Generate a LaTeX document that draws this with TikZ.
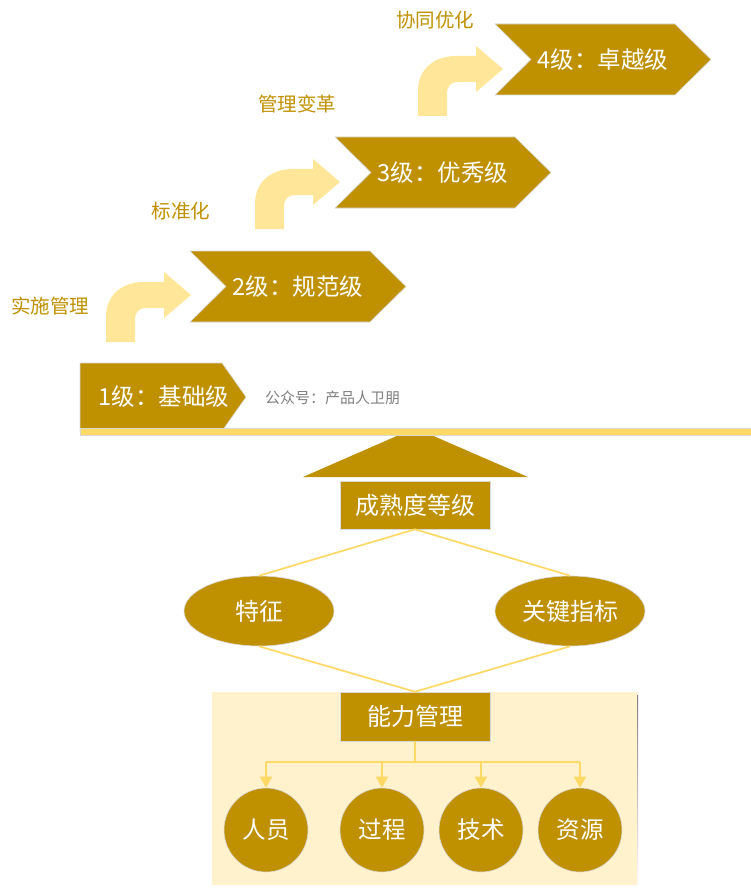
\documentclass[tikz,border=0pt]{standalone}
\usepackage{fontspec}
\setmainfont{Noto Sans CJK SC}
\usepackage{tikz}
\usetikzlibrary{arrows.meta,positioning,shapes.geometric,calc}
\definecolor{gold}{HTML}{BF9000}
\definecolor{paleyel}{HTML}{FFE699}
\definecolor{lineyel}{HTML}{FFD966}
\definecolor{cream}{HTML}{FFF2CC}
\definecolor{shade}{HTML}{E8EFF8}
\definecolor{note}{HTML}{7F7F7F}
\tikzset{
  levelshape/.style={fill=gold, draw=black!15, line width=0.6pt},
  leveltext/.style={text=white, font=\fontsize{23.5}{27}\selectfont, inner sep=0pt},
  stepnote/.style={text=gold, font=\fontsize{19.5}{23}\selectfont, inner sep=0pt},
  bentarrow/.style={fill=paleyel},
  goldbox/.style={
    rectangle, draw=black!15, fill=gold, line width=0.6pt,
    minimum width=150pt, minimum height=48pt,
    text=white, font=\fontsize{24}{28}\selectfont, inner sep=0pt
  },
  goldoval/.style={
    ellipse, draw=black!15, fill=gold, line width=0.6pt,
    minimum width=150pt, minimum height=70pt,
    text=white, font=\fontsize{24}{28}\selectfont, inner sep=0pt
  },
  goldcircle/.style={
    circle, draw=black!15, fill=gold, line width=0.6pt,
    minimum size=84pt,
    text=white, font=\fontsize{23.5}{28}\selectfont, inner sep=0pt
  },
  linkline/.style={draw=lineyel, line width=1.7pt},
  treearrow/.style={
    -{Triangle[width=12pt,length=11pt]}, draw=lineyel, fill=lineyel, line width=2pt
  },
}
\begin{document}
\begin{tikzpicture}[x=1pt, y=-1pt]
  \useasboundingbox (0,0) rectangle (751,896);

  % Levels 2-4 as notched chevrons
  \foreach \lx/\ly/\lname/\ltext in {190/251/lv2/2级：规范级, 335/137/lv3/3级：优秀级, 495/24/lv4/4级：卓越级} {
    \draw[levelshape] (\lx,\ly) -- ++(180,0) -- ++(36,35.5) -- ++(-36,35.5)
      -- ++(-180,0) -- ++(36,-35.5) -- cycle;
    \node[leveltext] (\lname) at (\lx+108,\ly+35.5) {\ltext};
  }

  % Level 1 with flat left side
  \draw[levelshape] (80,363) -- (222,363) -- (246,397) -- (222,431) -- (80,431) -- cycle;
  \node[leveltext] (lv1) at (164,397) {1级：基础级};
  \node[anchor=west, text=note, font=\fontsize{15}{17}\selectfont, inner sep=0pt]
    (account) at (265,398) {公众号：产品人卫朋};

  % Bent arrows between levels
  \foreach \bx/\by in {106/342, 255/229, 418/116} {
    \fill[bentarrow, shift={(\bx,\by)}] (0,0) -- (0,-25)
      .. controls (0,-47) and (16,-60) .. (38,-60) -- (58,-60) -- (58,-70)
      -- (85,-47) -- (58,-24) -- (58,-34) -- (40,-34)
      .. controls (33,-34) and (29,-30) .. (29,-22) -- (29,0) -- cycle;
  }

  % Step notes
  \node[stepnote] (note1) at (50,306) {实施管理};
  \node[stepnote] (note2) at (181,211) {标准化};
  \node[stepnote] (note3) at (297,104) {管理变革};
  \node[stepnote] (note4) at (435,20) {协同优化};

  % Pointer and base bar
  \fill[gold] (303,477) -- (415,428) -- (528,477) -- cycle;
  \draw[fill=lineyel, draw=black!15, line width=0.6pt] (80,428) rectangle (751,435);

  % Maturity grade and its two aspects
  \node[goldbox] (grade) at (415,505) {成熟度等级};
  \node[goldoval] (feat) at (259,611) {特征};
  \node[goldoval] (kpi) at (570,611) {关键指标};

  % Capability management panel
  \fill[shade] (214,695) rectangle (638,889);
  \fill[cream] (212,692) rectangle (637,885);
  \node[goldbox, minimum height=49pt] (capab) at (415,716.5) {能力管理};
  \node[goldcircle] (people) at (266,830) {人员};
  \node[goldcircle] (process) at (382,830) {过程};
  \node[goldcircle] (tech) at (481,830) {技术};
  \node[goldcircle] (resource) at (580,830) {资源};

  % Links
  \draw[linkline] (grade.south) -- (feat.north);
  \draw[linkline] (grade.south) -- (kpi.north);
  \draw[linkline] (feat.south) -- (capab.north);
  \draw[linkline] (kpi.south) -- (capab.north);

  \coordinate (hub) at ($(capab.south)+(0,21)$);
  \draw[linkline] (capab.south) -- (hub);
  \draw[linkline] (hub -| people) -- (hub -| resource);
  \foreach \c in {people,process,tech,resource} {
    \draw[treearrow] (hub -| \c) -- (\c);
  }
\end{tikzpicture}
\end{document}
